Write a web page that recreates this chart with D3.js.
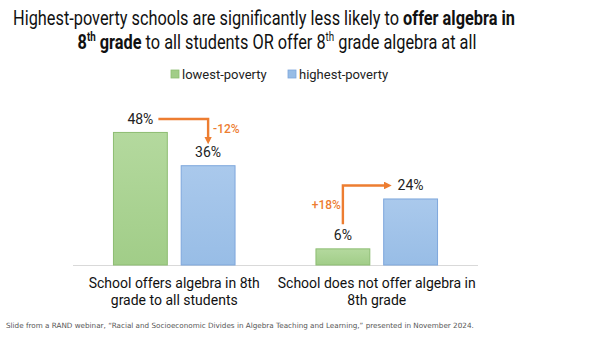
<!DOCTYPE html>
<html>
<head>
<meta charset="utf-8">
<script src="https://cdn.jsdelivr.net/npm/d3@7"></script>
<style>
  html, body { margin: 0; padding: 0; background: #ffffff; }
  svg { display: block; }
  text { font-family: Roboto, "Noto Sans", sans-serif; }
</style>
</head>
<body>
<svg id="chart" width="591" height="345"></svg>
<script>
// Share of schools, by poverty level
const categories = [
  ["School offers algebra in 8th", "grade to all students"],
  ["School does not offer algebra in", "8th grade"]
];
const seriesNames = ["lowest-poverty", "highest-poverty"];
const lowestPoverty = [48, 6];
const highestPoverty = [36, 24];

const svg = d3.select("#chart");

const colors = {
  "lowest-poverty": { top: "#b4d99e", bottom: "#a1cd88", stroke: "#8dbd72" },
  "highest-poverty": { top: "#aac9ec", bottom: "#98bde6", stroke: "#7ea7dc" }
};
const orange = "#ed7d31";

// scale a text's font so that it spans the wanted width
function fitWidth(sel, width) {
  const fs = parseFloat(sel.style("font-size"));
  const w = sel.node().getComputedTextLength();
  sel.style("font-size", (fs * width / w).toFixed(2) + "px");
}

// gradients for the bar fills
const defs = svg.append("defs");
seriesNames.forEach((s, i) => {
  const g = defs.append("linearGradient").attr("id", "grad" + i)
    .attr("x1", 0).attr("y1", 0).attr("x2", 0).attr("y2", 1);
  g.append("stop").attr("offset", "0%").attr("stop-color", colors[s].top);
  g.append("stop").attr("offset", "100%").attr("stop-color", colors[s].bottom);
});
defs.append("marker").attr("id", "arrow")
  .attr("viewBox", "0 0 10 10").attr("refX", 6).attr("refY", 5)
  .attr("markerWidth", 3.2).attr("markerHeight", 3.2)
  .attr("orient", "auto-start-reverse")
  .append("path").attr("d", "M0,0 L10,5 L0,10 Z").attr("fill", orange);

// Title: two centred lines in a narrow set, bold key phrases, superscript ordinals
const titleSize = 20;
const titleG = svg.append("g");
const l1 = titleG.append("text").attr("text-anchor", "middle").attr("fill", "#111")
  .attr("x", 0).attr("y", 25).style("font-size", titleSize + "px");
l1.append("tspan").text("Highest-poverty schools are significantly less likely to ");
l1.append("tspan").attr("font-weight", "bold").text("offer algebra in");
const sx = 502 / l1.node().getComputedTextLength();
l1.attr("transform", `translate(264,0) scale(${sx},1)`);
const l2 = titleG.append("text").attr("text-anchor", "middle").attr("fill", "#111")
  .attr("x", 0).attr("y", 49).style("font-size", titleSize + "px")
  .attr("transform", `translate(277,0) scale(${sx},1)`);
const sup = titleSize * 0.6, rise = titleSize * 0.4;
l2.append("tspan").attr("font-weight", "bold").text("8");
l2.append("tspan").attr("font-weight", "bold").attr("dy", -rise).style("font-size", sup + "px").text("th");
l2.append("tspan").attr("font-weight", "bold").attr("dy", rise).text(" grade");
l2.append("tspan").text(" to all students OR offer 8");
l2.append("tspan").attr("dy", -rise).style("font-size", sup + "px").text("th");
l2.append("tspan").attr("dy", rise).text(" grade algebra at all");

// Scales
const x0 = d3.scaleBand().domain(d3.range(categories.length)).range([73, 478]);
const x1 = d3.scaleBand().domain(seriesNames).range([0, x0.bandwidth()])
  .paddingInner(0.19).paddingOuter(0.59);
const y = d3.scaleLinear().domain([0, 50]).range([265, 126.4]);

// Baseline axis
svg.append("line").attr("x1", 73).attr("x2", 478)
  .attr("y1", y(0) + 0.5).attr("y2", y(0) + 0.5)
  .attr("stroke", "#d9d9d9").attr("stroke-width", 1);

const values = { "lowest-poverty": lowestPoverty, "highest-poverty": highestPoverty };

// Bars and value labels
seriesNames.forEach((s, si) => {
  const g = svg.append("g");
  g.selectAll("rect").data(values[s]).join("rect")
    .attr("x", (d, i) => x0(i) + x1(s) + 0.5)
    .attr("y", d => y(d) + 0.5)
    .attr("width", x1.bandwidth() - 1)
    .attr("height", d => y(0) - y(d) - 0.5)
    .attr("fill", `url(#grad${si})`)
    .attr("stroke", colors[s].stroke).attr("stroke-width", 1);
  g.selectAll("text").data(values[s]).join("text")
    .attr("x", (d, i) => x0(i) + x1(s) + x1.bandwidth() / 2)
    .attr("y", d => y(d) - 8)
    .attr("text-anchor", "middle").attr("fill", "#222")
    .style("font-size", "14px")
    .text(d => d + "%");
});

// Category labels
categories.forEach((lines, i) => {
  const t = svg.append("text").attr("text-anchor", "middle").attr("fill", "#111")
    .style("font-size", "14px");
  lines.forEach((ln, k) => {
    t.append("tspan").attr("x", x0(i) + x0.bandwidth() / 2).attr("y", 288 + k * 17).text(ln);
  });
});

// Legend
const legend = svg.append("g");
const legendX = [171, 288];
seriesNames.forEach((s, i) => {
  legend.append("rect").attr("x", legendX[i]).attr("y", 70).attr("width", 8).attr("height", 8)
    .attr("fill", colors[s].bottom).attr("stroke", colors[s].stroke).attr("stroke-width", 0.8);
  legend.append("text").attr("x", legendX[i] + 11).attr("y", 79)
    .attr("fill", "#222").style("font-size", "13px").text(s);
});

// Difference annotations (highest minus lowest)
const diffs = highestPoverty.map((v, i) => v - lowestPoverty[i]);
const fmt = d => (d > 0 ? "+" : "-") + Math.abs(d) + "%";

// first group: elbow from the lowest label down to the highest label
{
  const i = 0;
  const xs = x0(i) + x1("lowest-poverty") + x1.bandwidth() / 2;
  const xe = x0(i) + x1("highest-poverty") + x1.bandwidth() / 2;
  const yStart = y(lowestPoverty[i]) - 13;
  const yEnd = y(highestPoverty[i]) - 24;
  svg.append("path")
    .attr("d", `M${xs + 18},${yStart} H${xe} V${yEnd}`)
    .attr("fill", "none").attr("stroke", orange).attr("stroke-width", 2.4)
    .attr("marker-end", "url(#arrow)");
  svg.append("text").attr("x", xe + 5).attr("y", yStart + 14)
    .attr("fill", orange).attr("font-weight", 500).style("font-size", "12px").text(fmt(diffs[i]));
}
// second group: elbow from above the lowest label up and over to the highest label
{
  const i = 1;
  const xs = x0(i) + x1("lowest-poverty") + x1.bandwidth() / 2;
  const xe = x0(i) + x1("highest-poverty") + x1.bandwidth() / 2;
  const yStart = y(lowestPoverty[i]) - 24;
  const yEnd = y(highestPoverty[i]) - 13;
  svg.append("path")
    .attr("d", `M${xs},${yStart} V${yEnd} H${xe - 22}`)
    .attr("fill", "none").attr("stroke", orange).attr("stroke-width", 2.4)
    .attr("marker-end", "url(#arrow)");
  svg.append("text").attr("x", xs - 2).attr("y", yStart - 15)
    .attr("text-anchor", "end")
    .attr("fill", orange).attr("font-weight", 500).style("font-size", "12px").text(fmt(diffs[i]));
}

// Source note
const note = svg.append("text").attr("x", 6).attr("y", 328).attr("fill", "#555")
  .style("font-family", "'DejaVu Sans', sans-serif").style("font-size", "7.4px")
  .text("Slide from a RAND webinar, \u201cRacial and Socioeconomic Divides in Algebra Teaching and Learning,\u201d presented in November 2024.");
fitWidth(note, 467);
</script>
</body>
</html>
